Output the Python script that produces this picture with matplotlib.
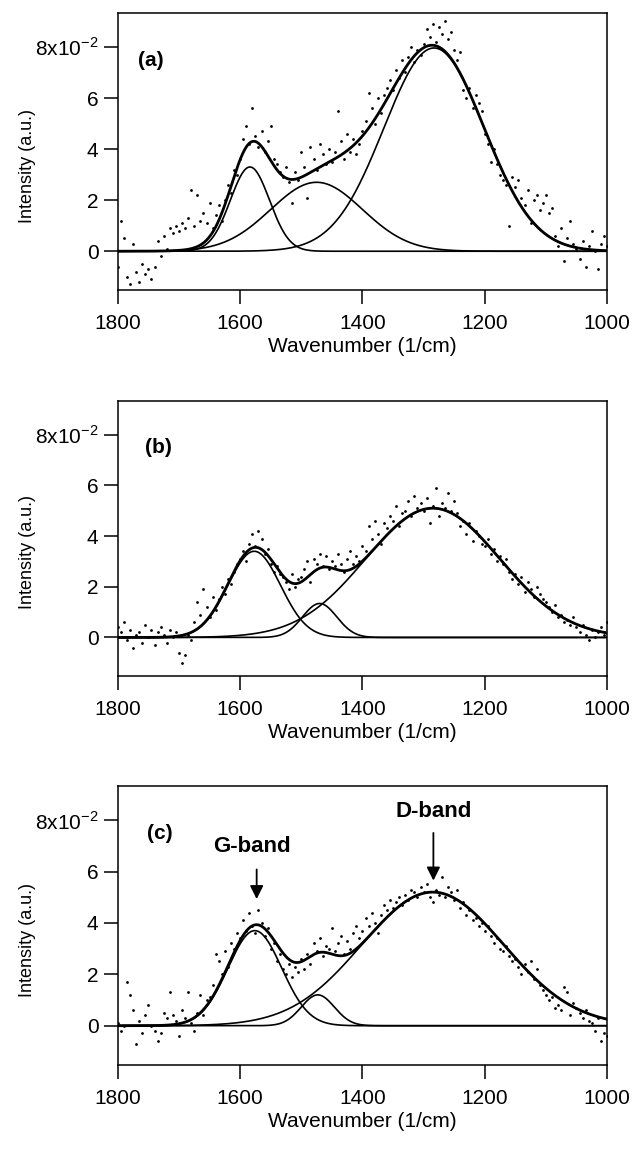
import numpy as np
import matplotlib
matplotlib.use("Agg")
import matplotlib.pyplot as plt

plt.rcParams['font.family'] = ['Liberation Sans', 'DejaVu Sans']
plt.rcParams['mathtext.fontset'] = 'custom'
plt.rcParams['mathtext.rm'] = 'Liberation Sans'

# Wavenumber grid of the measured spectra (1/cm)
wn = np.arange(1800, 999, -5)

# Measured intensities, units of 1e-2
int_a = [-0.6, 1.2, 0.5, -1.0, -1.3, 0.3, -0.8, -1.2, -0.5, -0.9,
         -0.7, -1.1, -0.6, 0.4, -0.2, 0.6, 0.1, 0.9, 0.7, 1.0,
         0.8, 1.1, 0.9, 1.3, 2.4, 1.0, 2.2, 1.2, 1.5, 1.1,
         1.9, 0.9, 1.4, 1.8, 1.2, 2.0, 2.6, 2.3, 3.2, 3.0,
         3.6, 4.4, 4.9, 4.2, 5.6, 4.5, 4.1, 4.7, 3.9, 4.3,
         4.9, 3.6, 3.4, 3.1, 2.9, 3.3, 2.7, 1.9, 3.1, 2.8,
         3.9, 3.3, 2.1, 4.1, 3.6, 3.2, 4.2, 3.8, 3.4, 4.0,
         3.5, 3.9, 5.5, 4.3, 3.6, 4.6, 3.9, 4.4, 3.8, 4.2,
         4.7, 5.1, 6.2, 5.6, 5.0, 6.0, 5.4, 6.1, 6.4, 6.7,
         6.3, 7.1, 6.8, 7.5, 7.0, 7.6, 8.0, 7.4, 7.9, 7.7,
         8.1, 8.7, 8.4, 8.9, 8.2, 8.8, 8.5, 9.0, 8.3, 8.6,
         7.9, 7.5, 7.8, 6.3, 6.0, 6.4, 5.6, 6.1, 5.8, 5.5,
         4.6, 4.2, 3.5, 4.0, 3.4, 3.0, 2.8, 2.6, 1.0, 2.9,
         2.5, 2.8, 2.1, 1.8, 2.4, 1.1, 2.0, 2.2, 1.6, 1.9,
         2.2, 1.5, 1.7, 0.6, 0.2, 0.9, -0.4, 0.5, 1.2, 0.3,
         0.1, -0.3, 0.4, -0.6, 0.2, 0.8, 0.0, -0.7, 0.3, 0.6,
         0.2]
int_b = [0.4, 0.2, 0.6, -0.1, 0.3, -0.4, 0.1, 0.2, -0.2, 0.5,
         0.0, 0.3, -0.3, 0.2, 0.4, 0.1, -0.2, 0.3, 0.0, 0.2,
         -0.6, -1.0, -0.7, 0.1, -0.1, 0.6, 1.4, 0.9, 1.9, 1.2,
         0.8, 1.6, 1.1, 1.5, 2.0, 1.7, 2.3, 2.1, 2.6, 2.9,
         3.1, 3.4, 3.0, 3.7, 4.1, 3.6, 4.2, 3.9, 3.3, 3.5,
         2.9, 2.6, 2.8, 2.5, 2.4, 2.2, 1.9, 2.5, 2.0, 2.3,
         2.4, 2.7, 3.0, 2.2, 3.1, 2.9, 3.3, 2.8, 3.2, 2.7,
         3.0, 2.8, 3.3, 2.9, 2.6, 3.1, 3.4, 2.9, 3.2, 3.0,
         3.6, 3.4, 4.4, 3.9, 4.6, 4.1, 3.7, 4.5, 4.3, 4.8,
         4.6, 5.2, 4.4, 4.9, 5.0, 5.4, 4.8, 5.6, 5.1, 5.3,
         5.0, 5.5, 4.5, 5.2, 5.9, 4.8, 5.3, 5.1, 5.7, 5.0,
         5.4, 4.9, 4.4, 4.6, 4.1, 4.5, 3.8, 4.2, 4.0, 3.7,
         3.6, 3.9, 3.3, 3.5, 3.0, 3.2, 2.9, 3.1, 2.6, 2.3,
         2.5, 2.1, 2.4, 1.8, 2.2, 1.9, 1.6, 2.0, 1.7, 1.5,
         1.4, 1.2, 1.0, 1.3, 0.8, 0.9, 0.6, 0.7, 0.5, 0.8,
         0.4, 0.2, 0.5, 0.1, -0.1, 0.3, 0.0, 0.2, 0.4, 0.1,
         0.6]
int_c = [0.1, -0.2, 0.0, 1.7, 1.2, 0.6, -0.7, 0.2, -0.3, 0.4,
         0.8, 0.0, -0.2, -0.6, -0.3, 0.5, 0.3, 1.3, 0.4, 0.2,
         -0.4, 0.6, 0.3, 1.3, 0.1, -0.2, 0.5, 1.2, 0.4, 1.0,
         1.1, 1.6, 2.8, 2.5, 2.0, 2.9, 2.3, 3.2, 3.0, 3.6,
         3.4, 4.1, 3.7, 4.4, 3.9, 3.6, 4.5, 4.0, 3.5, 3.8,
         3.0, 3.2, 2.5, 2.8, 2.2, 2.0, 2.4, 1.9, 2.3, 2.1,
         2.6, 2.2, 2.8, 2.4, 3.2, 2.9, 3.4, 2.7, 3.1, 3.0,
         3.8, 2.9, 3.2, 3.5, 2.8, 3.3, 3.0, 3.6, 3.9, 3.4,
         3.7, 4.2, 3.9, 4.4, 4.0, 3.6, 4.3, 4.7, 4.5, 4.9,
         4.6, 4.8, 5.0, 4.7, 5.1, 4.9, 5.3, 5.2, 5.0, 5.4,
         5.2, 5.5, 5.0, 4.8, 5.3, 5.1, 5.8, 5.0, 5.4, 5.2,
         4.9, 5.3, 4.6, 4.8, 4.3, 4.5, 4.1, 4.2, 3.9, 4.0,
         3.7, 3.9, 3.5, 3.2, 3.4, 3.0, 2.9, 3.1, 2.7, 2.5,
         2.6, 2.3, 2.0, 2.4, 2.1, 2.5, 1.8, 2.2, 1.6, 1.4,
         1.2, 1.0, 1.1, 0.7, 0.8, 0.6, 1.5, 1.3, 0.4, 0.9,
         0.7, 0.5, 0.3, 0.6, 0.2, 0.1, -0.2, 0.3, -0.6, -0.3,
         -0.4]

# Fitted Gaussian bands: G, 1470 band, D
centers_a = [1584, 1475, 1283]
heights_a = [3.3, 2.7, 7.96]
widths_a = [32, 75, 82]
centers_b = [1577, 1470, 1285]
heights_b = [3.4, 1.34, 5.1]
widths_b = [43, 28, 110]
centers_c = [1576, 1473, 1285]
heights_c = [3.7, 1.2, 5.2]
widths_c = [44, 27, 116]

panels = [
    ("(a)", int_a, centers_a, heights_a, widths_a, [0.185, 0.748, 0.768, 0.2405], 0.041),
    ("(b)", int_b, centers_b, heights_b, widths_b, [0.185, 0.413, 0.768, 0.2387], 0.055),
    ("(c)", int_c, centers_c, heights_c, widths_c, [0.185, 0.0755, 0.768, 0.242], 0.059),
]

yticks = [0, 2, 4, 6, 8]
ytick_labels = ['0', '2', '4', '6', r'8x10$^{\mathregular{-2}}$']
xticks = [1800, 1600, 1400, 1200, 1000]

fig = plt.figure(figsize=(6.37, 11.52), dpi=100)
xfit = np.linspace(1800, 1000, 801)

for label, data, cen, hgt, wid, pos, lx in panels:
    ax = fig.add_axes(pos)
    ax.plot(wn, data, '.', color='black', ms=4, mew=0)
    total = np.zeros_like(xfit)
    for c, h, w in zip(cen, hgt, wid):
        comp = h * np.exp(-(xfit - c) ** 2 / (2 * w ** 2))
        total += comp
        ax.plot(xfit, comp, color='black', lw=1.2)
    ax.plot(xfit, total, color='black', lw=2.0)

    ax.set_xlim(1800, 1000)
    ax.set_ylim(-1.53, 9.32)
    ax.set_xticks(xticks)
    ax.set_yticks(yticks)
    ax.set_yticklabels(ytick_labels)
    ax.tick_params(direction='out', length=10, width=1.1, labelsize=15, pad=7)
    ax.tick_params(axis='y', pad=4)
    for sp in ax.spines.values():
        sp.set_linewidth(1.1)
    ax.set_xlabel("Wavenumber (1/cm)", fontsize=15, labelpad=3)
    ax.set_ylabel("Intensity (a.u.)", fontsize=13)
    ax.yaxis.set_label_coords(-0.168, 0.45)
    ax.text(lx, 0.83, label, transform=ax.transAxes, fontsize=15,
            fontweight='bold', ha='left', va='center')

    if label == "(c)":
        ax.annotate("", xy=(1573, 4.82), xytext=(1573, 6.19),
                    arrowprops=dict(arrowstyle='-|>', color='black', lw=1.3, mutation_scale=20))
        ax.text(1580, 6.99, "G-band", fontsize=16, fontweight='bold', ha='center', va='center')
        ax.annotate("", xy=(1284, 5.54), xytext=(1284, 7.61),
                    arrowprops=dict(arrowstyle='-|>', color='black', lw=1.3, mutation_scale=20))
        ax.text(1283, 8.35, "D-band", fontsize=16, fontweight='bold', ha='center', va='center')

fig.savefig("out.png", dpi=100)
